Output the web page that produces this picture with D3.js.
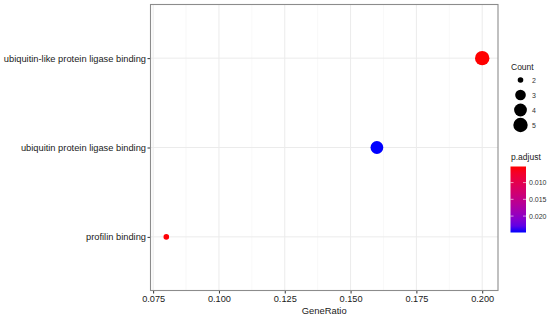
<!DOCTYPE html>
<html>
<head>
<meta charset="utf-8">
<script src="https://cdn.jsdelivr.net/npm/d3@7"></script>
<style>
  body { margin: 0; background: #fff; }
  text { font-family: "Liberation Sans", Arial, sans-serif; }
</style>
</head>
<body>
<div id="chart"></div>
<script>
// GO terms, bottom to top as in the plot
var terms = ["profilin binding", "ubiquitin protein ligase binding", "ubiquitin-like protein ligase binding"];
var geneRatio = [0.08, 0.16, 0.20];
var counts = [2, 4, 5];
var pAdjust = [0.0054, 0.0249, 0.0052];

var xTicks = [0.075, 0.100, 0.125, 0.150, 0.175, 0.200];
var countBreaks = [2, 3, 4, 5];
var pBreaks = [0.010, 0.015, 0.020];

const drawDotPlot = () => {
  var width = 550, height = 318;
  var panel = { left: 150.5, top: 4.5, right: 498, bottom: 290.5 };

  var svg = d3.select("#chart").append("svg")
    .attr("width", width)
    .attr("height", height);

  var x = d3.scaleLinear().domain([0.074, 0.206]).range([panel.left, panel.right]);
  // discrete axis with ggplot style 0.6 expansion
  var y = d3.scaleLinear().domain([0.4, 3.6]).range([panel.bottom, panel.top]);

  var pMin = d3.min(pAdjust), pMax = d3.max(pAdjust);
  var color = d3.scaleLinear().domain([pMin, pMax]).range(["red", "blue"]).interpolate(d3.interpolateLab);

  var cMin = d3.min(counts), cMax = d3.max(counts);
  var rScale = d3.scaleLinear().domain([0, 1]).range([2.8, 7.2]);
  var radius = (c) => rScale(Math.sqrt((c - cMin) / (cMax - cMin)));

  // grid lines
  var minor = d3.range(xTicks.length - 1).map(i => (xTicks[i] + xTicks[i + 1]) / 2);
  svg.append("g").selectAll("line").data(minor).join("line")
    .attr("x1", d => x(d)).attr("x2", d => x(d))
    .attr("y1", panel.top).attr("y2", panel.bottom)
    .style("stroke", "#f3f3f3").style("stroke-width", 0.6);
  svg.append("g").selectAll("line").data(xTicks).join("line")
    .attr("x1", d => x(d)).attr("x2", d => x(d))
    .attr("y1", panel.top).attr("y2", panel.bottom)
    .style("stroke", "#ebebeb").style("stroke-width", 1);
  svg.append("g").selectAll("line").data(terms).join("line")
    .attr("x1", panel.left).attr("x2", panel.right)
    .attr("y1", (d, i) => y(i + 1)).attr("y2", (d, i) => y(i + 1))
    .style("stroke", "#ebebeb").style("stroke-width", 1);

  // axes
  var xAxis = svg.append("g")
    .attr("transform", "translate(0," + panel.bottom + ")")
    .call(d3.axisBottom(x).tickValues(xTicks).tickFormat(d3.format(".3f")).tickSize(3).tickSizeOuter(0));
  xAxis.select(".domain").remove();
  xAxis.selectAll("line").style("stroke", "#333");
  xAxis.selectAll("text").style("font-size", "9.2px").style("fill", "#1a1a1a").attr("y", 5).attr("dy", "0.75em");

  var yAxis = svg.append("g")
    .attr("transform", "translate(" + panel.left + ",0)")
    .call(d3.axisLeft(y).tickValues([1, 2, 3]).tickFormat(d => terms[d - 1]).tickSize(3).tickSizeOuter(0));
  yAxis.select(".domain").remove();
  yAxis.selectAll("line").style("stroke", "#333");
  yAxis.selectAll("text").style("font-size", "9.3px").style("fill", "#1a1a1a").attr("x", -4.5);

  // panel border
  svg.append("rect")
    .attr("x", panel.left).attr("y", panel.top)
    .attr("width", panel.right - panel.left).attr("height", panel.bottom - panel.top)
    .style("fill", "none").style("stroke", "#8c8c8c").style("stroke-width", 1.1);

  svg.append("text")
    .attr("x", (panel.left + panel.right) / 2).attr("y", 314)
    .attr("text-anchor", "middle")
    .style("font-size", "9.4px").style("fill", "#1a1a1a")
    .text("GeneRatio");

  // points
  svg.append("g").selectAll("circle").data(terms).join("circle")
    .attr("cx", (d, i) => x(geneRatio[i]))
    .attr("cy", (d, i) => y(i + 1))
    .attr("r", (d, i) => radius(counts[i]))
    .style("fill", (d, i) => color(pAdjust[i]));

  // Count legend
  var lg = svg.append("g");
  lg.append("text").attr("x", 511).attr("y", 70)
    .style("font-size", "8.5px").style("fill", "#1a1a1a").text("Count");
  var keyY = d3.scalePoint().domain(countBreaks).range([80, 125]);
  lg.selectAll("circle").data(countBreaks).join("circle")
    .attr("cx", 520.5).attr("cy", d => keyY(d))
    .attr("r", d => radius(d))
    .style("fill", "black");
  lg.selectAll(".lab").data(countBreaks).join("text")
    .attr("x", 532).attr("y", d => keyY(d) + 2.5)
    .style("font-size", "7px").style("fill", "#333")
    .text(d => d);

  // p.adjust colour bar
  var cb = svg.append("g");
  cb.append("text").attr("x", 511).attr("y", 160)
    .style("font-size", "8.5px").style("fill", "#1a1a1a").text("p.adjust");
  var barTop = 166.5, barBottom = 232.5, barX = 510.5, barW = 15.5;
  var barY = d3.scaleLinear().domain([pMin, pMax]).range([barTop, barBottom]);
  var grad = svg.append("defs").append("linearGradient")
    .attr("id", "pgrad").attr("x1", 0).attr("x2", 0).attr("y1", 0).attr("y2", 1);
  grad.selectAll("stop").data(d3.range(11)).join("stop")
    .attr("offset", d => d / 10)
    .attr("stop-color", d => color(pMin + (pMax - pMin) * d / 10));
  cb.append("rect")
    .attr("x", barX).attr("y", barTop)
    .attr("width", barW).attr("height", barBottom - barTop)
    .style("fill", "url(#pgrad)");
  cb.selectAll("line").data(pBreaks).join("line")
    .attr("x1", barX).attr("x2", barX + 3)
    .attr("y1", d => barY(d)).attr("y2", d => barY(d))
    .style("stroke", "white").style("stroke-width", 0.6);
  cb.selectAll(".tk").data(pBreaks).join("line")
    .attr("x1", barX + barW - 3).attr("x2", barX + barW)
    .attr("y1", d => barY(d)).attr("y2", d => barY(d))
    .style("stroke", "white").style("stroke-width", 0.6);
  cb.selectAll("text.lab").data(pBreaks).join("text")
    .attr("class", "lab")
    .attr("x", 529).attr("y", d => barY(d) + 2.5)
    .style("font-size", "7px").style("fill", "#333")
    .text(d => d3.format(".3f")(d));
};

drawDotPlot();
</script>
</body>
</html>
